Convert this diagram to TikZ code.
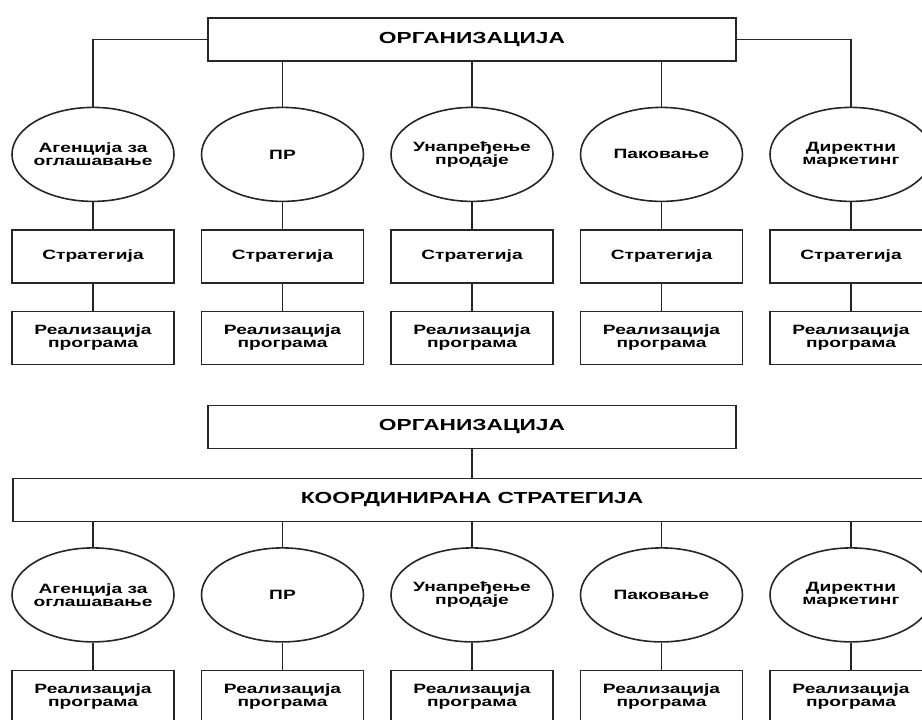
\documentclass[tikz,border=0pt]{standalone}
\usepackage{fontspec}
\setmainfont[FakeStretch=1.42]{Liberation Sans}
\usepackage{tikz}
\usetikzlibrary{chains,positioning,shapes}

\begin{document}
\begin{tikzpicture}[x=1pt,y=-1pt]
		\useasboundingbox (0,0) rectangle (922,720);
		\clip (0,0) rectangle (922,720);
		
		\tikzstyle{every path}=[line width=1.6pt,draw=black!85]
		
		\tikzstyle{orgbox}=[draw,minimum width=528pt,minimum height=43pt,inner sep=0pt,
		font=\fontsize{16}{16}\selectfont\bfseries]
		\tikzstyle{medium}=[ellipse,draw,minimum width=162pt,minimum height=94pt,inner ysep=0pt,
		inner xsep=-12pt,align=center,font=\fontsize{13.5}{13}\selectfont\bfseries]
		\tikzstyle{taskbox}=[draw,minimum width=162pt,minimum height=53pt,inner sep=0pt,
		align=center,font=\fontsize{13.5}{13}\selectfont\bfseries]
		
		%% Separate strategies
		\node [orgbox] (org) at (472,39.5) {ОРГАНИЗАЦИЈА};
		
		\begin{scope}[start chain=strat going right,node distance=25.9pt]
		\node [on chain,taskbox] at (93,256.5) {Стратегија};
		\node [on chain,taskbox] {Стратегија};
		\node [on chain,taskbox] {Стратегија};
		\node [on chain,taskbox] {Стратегија};
		\node [on chain,taskbox] {Стратегија};
		\end{scope}
		
		\begin{scope}[start chain=real going right,node distance=25.9pt]
		\node [on chain,taskbox] at (93,338) {Реализација\\програма};
		\node [on chain,taskbox] {Реализација\\програма};
		\node [on chain,taskbox] {Реализација\\програма};
		\node [on chain,taskbox] {Реализација\\програма};
		\node [on chain,taskbox] {Реализација\\програма};
		\end{scope}
		
		\node [medium,above=27pt of strat-1] (medium-1) {Агенција за\\оглашавање};
		\node [medium,above=27pt of strat-2] (medium-2) {ПР};
		\node [medium,above=27pt of strat-3] (medium-3) {Унапређење\\продаје};
		\node [medium,above=27pt of strat-4] (medium-4) {Паковање};
		\node [medium,above=27pt of strat-5] (medium-5) {Директни\\маркетинг};
		
		\draw (org.west) -| (medium-1.north);
		\draw (org.east) -| (medium-5.north);
		\draw (medium-2.north |- org.south) -- (medium-2.north);
		\draw (medium-3.north |- org.south) -- (medium-3.north);
		\draw (medium-4.north |- org.south) -- (medium-4.north);
		
		\draw (medium-1) -- (strat-1) -- (real-1);
		\draw (medium-2) -- (strat-2) -- (real-2);
		\draw (medium-3) -- (strat-3) -- (real-3);
		\draw (medium-4) -- (strat-4) -- (real-4);
		\draw (medium-5) -- (strat-5) -- (real-5);
		
		%% Coordinated strategy
		\node [orgbox] (corg) at (472,427) {ОРГАНИЗАЦИЈА};
		\node [orgbox,minimum width=918pt] (coord) at (472,500) {КООРДИНИРАНА СТРАТЕГИЈА};
		
		\begin{scope}[start chain=creal going right,node distance=25.9pt]
		\node [on chain,taskbox] at (93,697) {Реализација\\програма};
		\node [on chain,taskbox] {Реализација\\програма};
		\node [on chain,taskbox] {Реализација\\програма};
		\node [on chain,taskbox] {Реализација\\програма};
		\node [on chain,taskbox] {Реализација\\програма};
		\end{scope}
		
		\node [medium,above=27pt of creal-1] (cmedium-1) {Агенција за\\оглашавање};
		\node [medium,above=27pt of creal-2] (cmedium-2) {ПР};
		\node [medium,above=27pt of creal-3] (cmedium-3) {Унапређење\\продаје};
		\node [medium,above=27pt of creal-4] (cmedium-4) {Паковање};
		\node [medium,above=27pt of creal-5] (cmedium-5) {Директни\\маркетинг};
		
		\draw (corg) -- (coord);
		\draw (cmedium-1.north |- coord.south) -- (cmedium-1.north);
		\draw (cmedium-2.north |- coord.south) -- (cmedium-2.north);
		\draw (cmedium-3.north |- coord.south) -- (cmedium-3.north);
		\draw (cmedium-4.north |- coord.south) -- (cmedium-4.north);
		\draw (cmedium-5.north |- coord.south) -- (cmedium-5.north);
		
		\draw (cmedium-1) -- (creal-1);
		\draw (cmedium-2) -- (creal-2);
		\draw (cmedium-3) -- (creal-3);
		\draw (cmedium-4) -- (creal-4);
		\draw (cmedium-5) -- (creal-5);
		
\end{tikzpicture}
\end{document}
